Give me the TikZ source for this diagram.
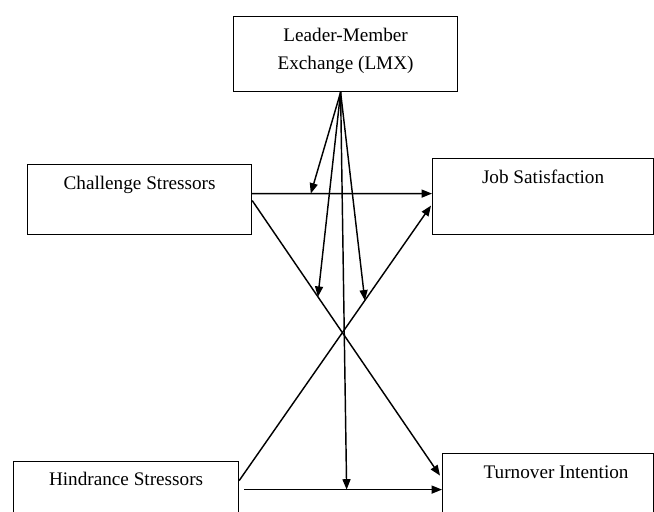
\documentclass[tikz,border=0pt]{standalone}
\usepackage{fontspec}
\setmainfont{Liberation Serif}
\usepackage{tikz}
\usetikzlibrary{
  calc,
  positioning,
  arrows.meta
}

\tikzset{
  varbox/.style={draw,line width=0.75pt,inner sep=0pt,align=center,
    anchor=north west,font=\fontsize{12}{17}\selectfont},
  link/.style={-{Triangle[length=6.5pt,width=5pt]},line width=0.9pt}
}

\begin{document}
\begin{tikzpicture}[x=0.625pt,y=-0.625pt]
  \useasboundingbox (0,0) rectangle (654,512);
  \clip (0,0) rectangle (654,512);

  \node[varbox,minimum width=140pt,minimum height=46.9pt,text depth=6.5pt]
  at (233, 16) (lmx) {Leader-Member\\Exchange (LMX)};
  \node[varbox,minimum width=140pt,text height=15.6pt,text depth=28.1pt]
  at (27, 164) (cs) {Challenge Stressors};
  \node[varbox,minimum width=138.1pt,text height=15.6pt,text depth=31.9pt]
  at (432, 158) (js) {Job Satisfaction};
  \node[varbox,minimum width=140.6pt,text height=15pt,text depth=20pt]
  at (13, 461) (hs) {Hindrance Stressors};
  \node[varbox,minimum width=131.9pt,text height=15.6pt,text depth=29.4pt]
  at (442, 453) (ti) {\hspace*{10pt}Turnover Intention};

  % main effects
  \draw[link] ($(cs.east) + (0, -6)$) -- coordinate[pos=0.326] (m1) ($(js.west) + (0, -3)$);
  \draw[link] ($(cs.east) + (0, 1)$) -- coordinate[pos=0.35] (m2) ($(ti.west) + (-2, -14)$);
  \draw[link] ($(hs.east) + (0, -9)$) -- coordinate[pos=0.655] (m3) ($(js.west) + (-1, 9)$);
  \draw[link] ($(hs.east) + (5, 0)$) -- coordinate[pos=0.518] (m4) (ti.west);

  % moderation by LMX
  \coordinate (src) at ($(lmx.south) + (-5, 0)$);
  \draw[link] (src) -- (m1);
  \draw[link] (src) -- (m2);
  \draw[link] (src) -- (m3);
  \draw[link] (src) -- (m4);
\end{tikzpicture}
\end{document}
